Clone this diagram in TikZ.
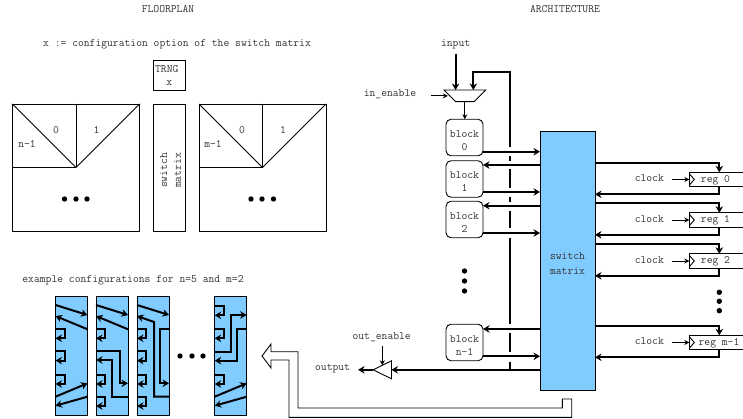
\documentclass[tikz,border=0pt]{standalone}
\usepackage{fontspec}
\usetikzlibrary{arrows.meta,shapes.geometric}
\definecolor{smblue}{HTML}{80CCFF}
\newcommand{\lowr}{\rule{0pt}{12.5pt}}
\begin{document}
\begin{tikzpicture}[
        x=1pt, y=-1pt,
        every node/.style={font=\fontsize{11.3}{13.2}\selectfont\ttfamily, text=black!80, inner sep=0pt, outer sep=0pt, align=center},
        box/.style={draw, line width=.9pt, minimum width=#1},
        b/.style={box=37pt, rounded corners=5pt, minimum height=36.5pt},
        sq/.style={box=127pt, minimum height=127pt},
        cfg/.style={box=32pt, minimum height=118.5pt, fill=smblue},
        regb/.style={minimum width=60pt, minimum height=14.4pt},
        dot/.style={circle, fill=black, minimum size=5.4pt},
        w/.style={line width=2pt, -{Stealth[length=6.5pt,width=7.5pt]}},
        wp/.style={line width=2pt},
        tw/.style={line width=.9pt, -{Stealth[length=5pt,width=5pt]}},
        ln/.style={line width=.9pt}
    ]
        \useasboundingbox (0,0) rectangle (743,419);

        % floorplan
        \node (fptitle) at (168,9) {FLOORPLAN};
        \node (xdef) at (177,44) {x := configuration option of the switch matrix};
        \node[box=31.5pt, minimum height=29.5pt] (trng) at (169.25,75.25) {TRNG\hspace*{5pt}\\x};
        \node[box=31.5pt, minimum height=127pt] (fpsw) at (169.25,167.5) {};
        \node[rotate=90] (fpswtxt) at (170.5,170.5) {switch\\[.6pt]matrix};
        \node[sq] (fpa) at (76,167.5) {};
        \node[sq] (fpb) at (262.5,167.5) {};
        \foreach \s in {fpa,fpb}
            \foreach \a in {north west,north,north east,west}
                \draw[ln] (\s.\a) -- (\s.center);
        \node (fpa0) at (56,130) {0};
        \node (fpa1) at (96.5,130) {1};
        \node (fpan) at (27,144) {n-1};
        \node (fpb0) at (242,130) {0};
        \node (fpb1) at (283,130) {1};
        \node (fpbm) at (213,144) {m-1};
        \foreach \x in {64.5,76,87,251,262,273.5}
            \node[dot] at (\x,199) {};

        % example configurations
        \node (extitle) at (133,280) {example configurations for n=5 and m=2};
        \node[cfg] (c0) at (71.5,355.8) {};
        \node[cfg] (c1) at (112,355.8) {};
        \node[cfg] (c2) at (153,355.8) {};
        \node[cfg] (c3) at (230.7,355.8) {};
        \foreach \c/\ys in {c0/{329,351.3,374.7}, c1/{329,374.7,396.7}, c2/{329,351.3,374.7,396.7}, c3/{306,329,374.7}}
            \foreach \y in \ys
                \draw[w] (\c.west |- 0,\y) -- ++(9,0) |- (\c.west |- 0,\y+9.3);
        \foreach \c in {c0,c1,c2}
            \draw[w] (\c.west |- 0,305) -- (\c.east |- 0,315);
        \foreach \c in {c0,c1}
            \draw[w] (\c.east |- 0,329.3) -- (\c.west |- 0,316);
        \foreach \c in {c0,c3} {
            \draw[w] (\c.west |- 0,396.7) -- (\c.east |- 0,383.3);
            \draw[w] (\c.east |- 0,396.7) -- (\c.west |- 0,405.7);
        }
        \draw[w] (c1.west |- 0,351.3) -| (120,383.3) -- (c1.east |- 0,383.3);
        \draw[w] (c1.east |- 0,396.7) -| (112.3,360) -- (c1.west |- 0,360);
        \draw[w] (c2.east |- 0,396.7) -| (154,322) -- (c2.west |- 0,316);
        \draw[w] (c2.east |- 0,328.5) -| (160,383.3) -- (c2.east |- 0,383.3);
        \draw[w] (c3.west |- 0,351.7) -| (230.7,315) -- (c3.east |- 0,315);
        \draw[w] (c3.east |- 0,329.3) -| (237.3,360.7) -- (c3.west |- 0,360.7);
        \foreach \x in {180,192,203}
            \node[dot] at (\x,356) {};

        % architecture
        \node (artitle) at (565,9) {ARCHITECTURE};
        \node[box=55pt, minimum height=259pt, fill=smblue] (sm) at (567.5,260.5) {\lowr switch\\[1.6pt]matrix};
        \node (input) at (455.6,44) {input};
        \node (ine) at (390,94) {in\_enable};
        \node[draw, line width=.9pt, trapezium, shape border rotate=180, trapezium angle=45,
              inner xsep=9.15pt, inner ysep=5.85pt] (mux) at (464.85,95.85) {};
        \node[b] (b0) at (464.5,137.5) {\lowr block\\0};
        \node[b] (b1) at (464.5,179) {\lowr block\\1};
        \node[b] (b2) at (464.5,219.5) {\lowr block\\2};
        \node[b] (bn) at (464.5,342.5) {\lowr block\\n-1};
        \foreach \y in {271,281,291}
            \node[dot] at (464.5,\y) {};
        \draw[w, shorten <=5pt] (input.south -| 455.6,0) -- (455.6,0 |- mux.north);
        \draw[tw, shorten >=2pt] (mux.west) ++(-19,0) -- (mux.west);
        \draw[tw] (mux.south) -- (b0.north -| mux.south);

        \foreach \b/\y in {b0/151.7,b1/192,b2/233,bn/356.3}
            \draw[w] (\b.east |- 0,\y) -- (sm.west |- 0,\y);
        \foreach \b/\y in {b1/165,b2/205.7,bn/329}
            \draw[w] (sm.west |- 0,\y) -- (\b.east |- 0,\y);

        % feedback line, broken where it crosses the block wires
        \coordinate (fb) at (510,71.7);
        \draw[w] (fb |- 0,146.7) -- (fb) -| (473.3,90);
        \foreach \ya/\yb in {156/160.7,169.3/188,196.7/202,210.7/228.3,237.7/324,333.3/351.7,361.7/370}
            \draw[wp] (fb |- 0,\ya) -- (fb |- 0,\yb);

        \node (output) at (332.6,369) {output};
        \node (oen) at (381.7,337) {out\_enable};
        \node[draw, line width=.9pt, isosceles triangle, shape border rotate=180, isosceles triangle stretches,
              minimum width=18pt, minimum height=18.3pt] (tri) at (385.85,369.8) {};
        \draw[w] (sm.west |- tri.lower side) -- (tri.lower side);
        \draw[w, shorten >=8pt] (tri.apex) -- (output.east |- tri.apex);
        \draw[tw, shorten <=4pt] (tri.right side |- oen.south) -- (tri.right side);

        \foreach \r/\c/\lab/\tx in {r0/179.5/reg 0/715.5,r1/220/reg 1/715.5,r2/261/reg 2/715.5,r3/342.5/reg m-1/719} {
            \node[regb] (\r) at (719.3,\c) {};
            \node (\r txt) at (\tx,\c+.6) {\lab};
            \draw[ln] (\r.north east) -- (\r.north west) -- (\r.south west) -- (\r.south east);
            \draw[ln] ([yshift=-1.5pt]\r.north west) -- ([xshift=5pt]\r.west) -- ([yshift=1.5pt]\r.south west);
            \node (\r clk) at (649.3,\c-1.2) {clock};
            \draw[tw] (\r.west) ++(-17.6,0) -- (\r.west);
            \draw[w] (sm.east |- 0,\c-16.8) -| (\r.north);
            \draw[w] (\r.south) |- (sm.east |- 0,\c+14.8);
        }
        \foreach \y in {292.3,301.3,310.7}
            \node[dot] at (719.3,\y) {};

        % hollow arrow from the matrix to the examples
        \draw[line width=.9pt] (262,356) -- (271,344) -- (271,351.7) -- (298,351.7) -- (298,408) -- (562.3,408)
            -- (562.3,399) -- (571.7,399) -- (571.7,417.3) -- (289,417.3) -- (289,360) -- (271,360) -- (271,368) -- cycle;
    \end{tikzpicture}
\end{document}
